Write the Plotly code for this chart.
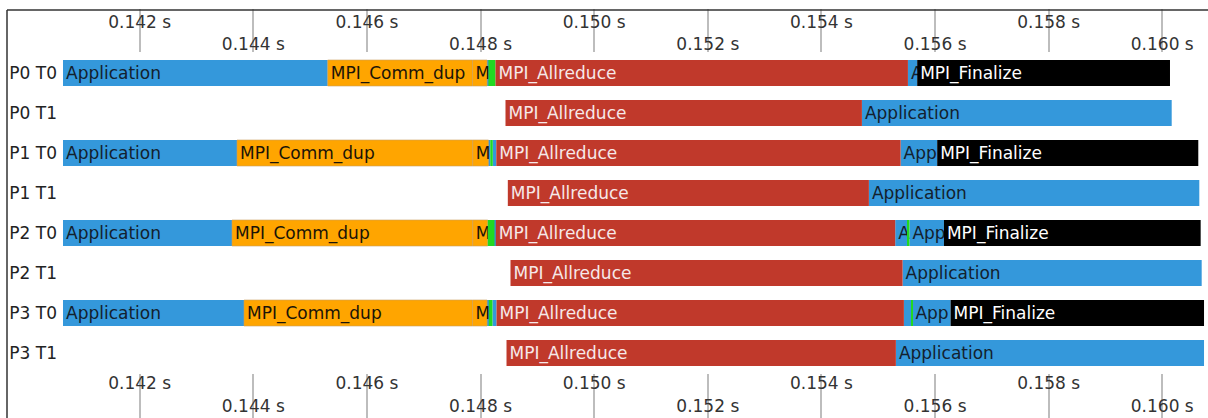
import plotly.graph_objects as go

# ---------------- data ----------------
ROWS = ["P0 T0", "P0 T1", "P1 T0", "P1 T1", "P2 T0", "P2 T1", "P3 T0", "P3 T1"]

TICK_VALS_A = [0.142, 0.146, 0.150, 0.154, 0.158]
TICK_TEXT_A = ["0.142 s", "0.146 s", "0.150 s", "0.154 s", "0.158 s"]
TICK_VALS_B = [0.144, 0.148, 0.152, 0.156, 0.160]
TICK_TEXT_B = ["0.144 s", "0.148 s", "0.152 s", "0.156 s", "0.160 s"]
TICK_VALS_ALL = TICK_VALS_A + TICK_VALS_B

X_RANGE = [0.140650, 0.160805]

# Application (blue)
APP_row = ["P0 T0", "P0 T0", "P0 T0", "P0 T1",
           "P1 T0", "P1 T0", "P1 T0", "P1 T0", "P1 T1",
           "P2 T0", "P2 T0", "P2 T0", "P2 T0", "P2 T1",
           "P3 T0", "P3 T0", "P3 T0", "P3 T0", "P3 T0", "P3 T1"]
APP_start = [0.140650, 0.148115, 0.155523, 0.154713,
             0.140650, 0.148140, 0.148215, 0.155394, 0.154836,
             0.140650, 0.148245, 0.155299, 0.155549, 0.155429,
             0.140650, 0.148115, 0.148210, 0.155452, 0.155602, 0.155311]
APP_end = [0.145310, 0.148139, 0.155686, 0.160166,
           0.143713, 0.148171, 0.148277, 0.156038, 0.160652,
           0.143625, 0.148268, 0.155523, 0.156157, 0.160694,
           0.143836, 0.148145, 0.148281, 0.155581, 0.156274, 0.160735]
APP_text = ["Application", "", "A", "Application",
            "Application", "", "", "App", "Application",
            "Application", "", "A", "App", "Application",
            "Application", "", "", "", "App", "Application"]

# MPI_Comm_dup and the short following MPI call (orange)
DUP_row = ["P0 T0", "P0 T0", "P1 T0", "P1 T0", "P2 T0", "P2 T0", "P3 T0", "P3 T0"]
DUP_start = [0.145310, 0.147858, 0.143713, 0.147863, 0.143625, 0.147863, 0.143836, 0.147858]
DUP_end = [0.147858, 0.148115, 0.147863, 0.148140, 0.147863, 0.148127, 0.147858, 0.148115]
DUP_text = ["MPI_Comm_dup", "M", "MPI_Comm_dup", "M", "MPI_Comm_dup", "M", "MPI_Comm_dup", "M"]

# short green regions
GRN_row = ["P0 T0", "P1 T0", "P2 T0", "P3 T0", "P2 T0", "P3 T0"]
GRN_start = [0.148139, 0.148171, 0.148127, 0.148145, 0.155523, 0.155581]
GRN_end = [0.148263, 0.148215, 0.148245, 0.148210, 0.155549, 0.155602]

# MPI_Allreduce (red)
ALL_row = ROWS
ALL_start = [0.148263, 0.148439, 0.148277, 0.148480, 0.148268, 0.148527, 0.148281, 0.148457]
ALL_end = [0.155523, 0.154713, 0.155394, 0.154836, 0.155299, 0.155429, 0.155452, 0.155311]

# MPI_Finalize (black)
FIN_row = ["P0 T0", "P1 T0", "P2 T0", "P3 T0"]
FIN_start = [0.155686, 0.156038, 0.156157, 0.156274]
FIN_end = [0.160136, 0.160634, 0.160676, 0.160735]

FONT = "DejaVu Sans"
FS = 17

# ---------------- figure ----------------
fig = go.Figure()


def add_bars(name, rows, starts, ends, texts, color, text_color, line_color=None):
    fig.add_trace(go.Bar(
        name=name,
        orientation="h",
        y=rows,
        base=starts,
        x=[e - s for s, e in zip(starts, ends)],
        width=0.65,
        marker=dict(color=color,
                    line=dict(width=0.6 if line_color else 0, color=line_color or color)),
        text=texts,
        textposition="inside",
        insidetextanchor="start",
        constraintext="none",
        textangle=0,
        textfont=dict(family=FONT, size=FS, color=text_color),
        showlegend=False,
        hovertemplate=name + "<extra></extra>",
    ))


add_bars("Application", APP_row, APP_start, APP_end, APP_text, "#3498db", "#13212e")
add_bars("MPI_Comm_dup", DUP_row, DUP_start, DUP_end, DUP_text, "#ffa500", "#1a1408", "#c9a060")
add_bars("Other", GRN_row, GRN_start, GRN_end, [""] * len(GRN_row), "#22d822", "#000000")
add_bars("MPI_Allreduce", ALL_row, ALL_start, ALL_end, ["MPI_Allreduce"] * len(ALL_row), "#c0392b", "#f6e8e8")
add_bars("MPI_Finalize", FIN_row, FIN_start, FIN_end, ["MPI_Finalize"] * len(FIN_row), "#000000", "#ffffff")

# empty traces so overlay axes are drawn
for ax in ["x2", "x3", "x4", "x5", "x6"]:
    fig.add_trace(go.Scatter(x=[None], y=[None], xaxis=ax, yaxis="y",
                             showlegend=False, hoverinfo="skip"))

tickfont = dict(family=FONT, size=FS, color="#333333")
GRID = "#bdbdbd"
common = dict(showgrid=False, zeroline=False, showline=False, automargin=False)

fig.update_layout(
    width=1208, height=418,
    margin=dict(l=63, r=0, t=53, b=45, autoexpand=False),
    paper_bgcolor="white", plot_bgcolor="white",
    barmode="overlay",
    font=dict(family=FONT, size=FS, color="#222222"),
    xaxis=dict(range=X_RANGE, side="bottom", anchor="y",
               tickvals=TICK_VALS_ALL, ticks="outside", ticklen=45,
               tickcolor=GRID, tickwidth=1.5, showticklabels=False, **common),
    xaxis2=dict(overlaying="x", matches="x", side="bottom", anchor="y",
                tickvals=TICK_VALS_A, ticktext=TICK_TEXT_A, ticks="",
                tickfont=tickfont, ticklabelstandoff=-2, **common),
    xaxis5=dict(overlaying="x", matches="x", side="bottom", anchor="y",
                tickvals=TICK_VALS_B, ticktext=TICK_TEXT_B, ticks="",
                tickfont=tickfont, ticklabelstandoff=21, **common),
    xaxis3=dict(overlaying="x", matches="x", side="top", anchor="y",
                tickvals=TICK_VALS_ALL, ticks="outside", ticklen=43,
                tickcolor=GRID, tickwidth=1.5, showticklabels=False, **common),
    xaxis4=dict(overlaying="x", matches="x", side="top", anchor="y",
                tickvals=TICK_VALS_B, ticktext=TICK_TEXT_B, ticks="",
                tickfont=tickfont, ticklabelstandoff=-1, **common),
    xaxis6=dict(overlaying="x", matches="x", side="top", anchor="y",
                tickvals=TICK_VALS_A, ticktext=TICK_TEXT_A, ticks="",
                tickfont=tickfont, ticklabelstandoff=21, **common),
    yaxis=dict(type="category", categoryorder="array", categoryarray=ROWS,
               range=[7.5, -0.5], ticks="", ticklabelstandoff=5,
               tickfont=dict(family=FONT, size=FS, color="#222222"), **common),
    shapes=[
        dict(type="line", xref="paper", yref="paper",
             x0=(7 - 63) / 1145, x1=1.0, y0=(373 - 10) / 320, y1=(373 - 10) / 320,
             line=dict(color="#333333", width=1.5)),
        dict(type="line", xref="paper", yref="paper",
             x0=(7 - 63) / 1145, x1=(7 - 63) / 1145, y0=(373 - 10) / 320, y1=-0.2,
             line=dict(color="#333333", width=1.5)),
    ],
)

fig.write_html(
    "out.html",
    config={"displayModeBar": False},
    post_script="document.body.style.margin='0';document.body.style.overflow='hidden';",
)
